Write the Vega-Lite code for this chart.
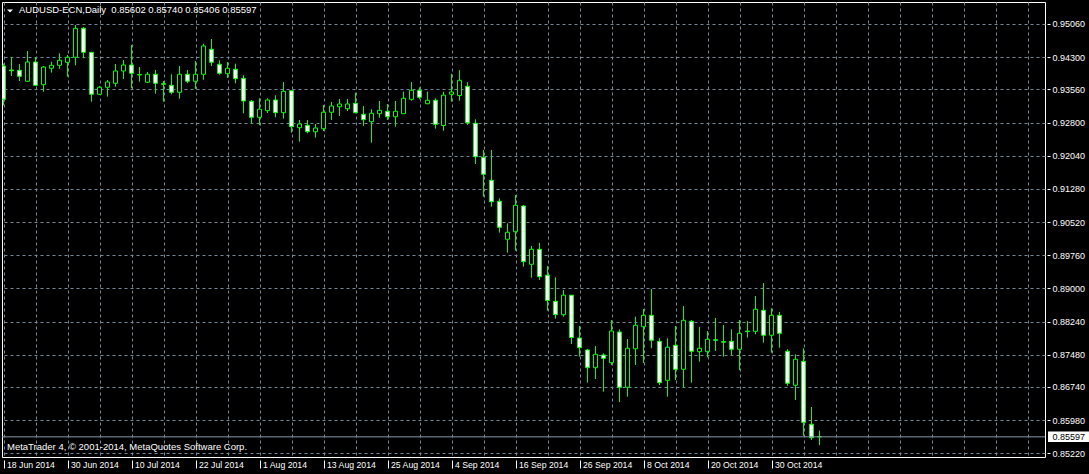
{
  "$schema": "https://vega.github.io/schema/vega-lite/v6.json",
  "width": 1043,
  "height": 455,
  "autosize": {"type": "none"},
  "padding": {"left": 2, "top": 2, "right": 44, "bottom": 17},
  "background": "#000000",
  "config": {"view": {"stroke": "#ffffff", "strokeWidth": 1}, "font": "Liberation Sans"},
  "data": {"values": [
    {"d":"18 Jun 2014","o":0.94097,"h":0.94150,"l":0.93196,"c":0.93334},
    {"d":"19 Jun 2014","o":0.94006,"h":0.94297,"l":0.93868,"c":0.93989},
    {"d":"20 Jun 2014","o":0.93999,"h":0.94143,"l":0.93753,"c":0.93861},
    {"d":"23 Jun 2014","o":0.93747,"h":0.94441,"l":0.93737,"c":0.94189},
    {"d":"24 Jun 2014","o":0.94189,"h":0.94297,"l":0.93639,"c":0.93655},
    {"d":"25 Jun 2014","o":0.93669,"h":0.94097,"l":0.93508,"c":0.94074},
    {"d":"26 Jun 2014","o":0.94045,"h":0.94196,"l":0.93944,"c":0.94113},
    {"d":"27 Jun 2014","o":0.94113,"h":0.94388,"l":0.94035,"c":0.94228},
    {"d":"30 Jun 2014","o":0.94182,"h":0.94349,"l":0.93852,"c":0.94297},
    {"d":"1 Jul 2014","o":0.94297,"h":0.95037,"l":0.94113,"c":0.94961},
    {"d":"2 Jul 2014","o":0.94961,"h":0.94991,"l":0.94274,"c":0.94411},
    {"d":"3 Jul 2014","o":0.94411,"h":0.94420,"l":0.93279,"c":0.93449},
    {"d":"4 Jul 2014","o":0.93449,"h":0.93639,"l":0.93433,"c":0.93609},
    {"d":"7 Jul 2014","o":0.93609,"h":0.93776,"l":0.93394,"c":0.93731},
    {"d":"8 Jul 2014","o":0.93701,"h":0.94143,"l":0.93623,"c":0.93983},
    {"d":"9 Jul 2014","o":0.93983,"h":0.94235,"l":0.93799,"c":0.94120},
    {"d":"10 Jul 2014","o":0.94120,"h":0.94579,"l":0.93586,"c":0.93930},
    {"d":"11 Jul 2014","o":0.93902,"h":0.94074,"l":0.93737,"c":0.93891},
    {"d":"14 Jul 2014","o":0.93724,"h":0.93960,"l":0.93708,"c":0.93907},
    {"d":"15 Jul 2014","o":0.93907,"h":0.94006,"l":0.93462,"c":0.93701},
    {"d":"16 Jul 2014","o":0.93692,"h":0.93753,"l":0.93279,"c":0.93678},
    {"d":"17 Jul 2014","o":0.93655,"h":0.93907,"l":0.93449,"c":0.93494},
    {"d":"18 Jul 2014","o":0.93494,"h":0.94097,"l":0.93348,"c":0.93907},
    {"d":"21 Jul 2014","o":0.93907,"h":0.94006,"l":0.93701,"c":0.93747},
    {"d":"22 Jul 2014","o":0.93747,"h":0.94212,"l":0.93570,"c":0.93907},
    {"d":"23 Jul 2014","o":0.93907,"h":0.94608,"l":0.93783,"c":0.94556},
    {"d":"24 Jul 2014","o":0.94480,"h":0.94716,"l":0.94097,"c":0.94182},
    {"d":"25 Jul 2014","o":0.94136,"h":0.94228,"l":0.93898,"c":0.93930},
    {"d":"28 Jul 2014","o":0.93921,"h":0.94189,"l":0.93822,"c":0.94045},
    {"d":"29 Jul 2014","o":0.94022,"h":0.94150,"l":0.93701,"c":0.93806},
    {"d":"30 Jul 2014","o":0.93815,"h":0.93884,"l":0.93013,"c":0.93295},
    {"d":"31 Jul 2014","o":0.93288,"h":0.93318,"l":0.92784,"c":0.92921},
    {"d":"1 Aug 2014","o":0.92921,"h":0.93357,"l":0.92738,"c":0.93105},
    {"d":"4 Aug 2014","o":0.93073,"h":0.93357,"l":0.93020,"c":0.93318},
    {"d":"5 Aug 2014","o":0.93318,"h":0.93426,"l":0.92921,"c":0.93027},
    {"d":"6 Aug 2014","o":0.93027,"h":0.93731,"l":0.92889,"c":0.93517},
    {"d":"7 Aug 2014","o":0.93531,"h":0.93540,"l":0.92568,"c":0.92706},
    {"d":"8 Aug 2014","o":0.92683,"h":0.92860,"l":0.92362,"c":0.92768},
    {"d":"11 Aug 2014","o":0.92738,"h":0.92860,"l":0.92555,"c":0.92591},
    {"d":"12 Aug 2014","o":0.92591,"h":0.92768,"l":0.92454,"c":0.92676},
    {"d":"13 Aug 2014","o":0.92660,"h":0.93203,"l":0.92607,"c":0.93036},
    {"d":"14 Aug 2014","o":0.93036,"h":0.93272,"l":0.92860,"c":0.93180},
    {"d":"15 Aug 2014","o":0.93164,"h":0.93341,"l":0.92951,"c":0.93226},
    {"d":"18 Aug 2014","o":0.93118,"h":0.93341,"l":0.93066,"c":0.93226},
    {"d":"19 Aug 2014","o":0.93242,"h":0.93485,"l":0.93013,"c":0.93027},
    {"d":"20 Aug 2014","o":0.92990,"h":0.93180,"l":0.92722,"c":0.92866},
    {"d":"21 Aug 2014","o":0.92820,"h":0.93105,"l":0.92339,"c":0.93013},
    {"d":"22 Aug 2014","o":0.93004,"h":0.93295,"l":0.92912,"c":0.93082},
    {"d":"25 Aug 2014","o":0.93059,"h":0.93226,"l":0.92860,"c":0.92935},
    {"d":"26 Aug 2014","o":0.92935,"h":0.93295,"l":0.92706,"c":0.93059},
    {"d":"27 Aug 2014","o":0.93004,"h":0.93508,"l":0.93004,"c":0.93357},
    {"d":"28 Aug 2014","o":0.93334,"h":0.93731,"l":0.93302,"c":0.93540},
    {"d":"29 Aug 2014","o":0.93540,"h":0.93609,"l":0.93334,"c":0.93380},
    {"d":"1 Sep 2014","o":0.93233,"h":0.93508,"l":0.93219,"c":0.93311},
    {"d":"2 Sep 2014","o":0.93311,"h":0.93357,"l":0.92660,"c":0.92761},
    {"d":"3 Sep 2014","o":0.92733,"h":0.93508,"l":0.92614,"c":0.93428},
    {"d":"4 Sep 2014","o":0.93449,"h":0.93918,"l":0.93279,"c":0.93501},
    {"d":"5 Sep 2014","o":0.93421,"h":0.94001,"l":0.93302,"c":0.93769},
    {"d":"8 Sep 2014","o":0.93632,"h":0.93726,"l":0.92745,"c":0.92795},
    {"d":"9 Sep 2014","o":0.92784,"h":0.92876,"l":0.91851,"c":0.92018},
    {"d":"10 Sep 2014","o":0.92005,"h":0.92172,"l":0.91101,"c":0.91615},
    {"d":"11 Sep 2014","o":0.91477,"h":0.92172,"l":0.90872,"c":0.90987},
    {"d":"12 Sep 2014","o":0.90996,"h":0.91065,"l":0.90276,"c":0.90400},
    {"d":"15 Sep 2014","o":0.90125,"h":0.90492,"l":0.89818,"c":0.90286},
    {"d":"16 Sep 2014","o":0.90299,"h":0.91140,"l":0.89864,"c":0.90904},
    {"d":"17 Sep 2014","o":0.90888,"h":0.90911,"l":0.89497,"c":0.89612},
    {"d":"18 Sep 2014","o":0.89552,"h":0.89971,"l":0.89245,"c":0.89896},
    {"d":"19 Sep 2014","o":0.89896,"h":0.90044,"l":0.89192,"c":0.89268},
    {"d":"22 Sep 2014","o":0.89302,"h":0.89513,"l":0.88488,"c":0.88722},
    {"d":"23 Sep 2014","o":0.88704,"h":0.89254,"l":0.88305,"c":0.88397},
    {"d":"24 Sep 2014","o":0.88397,"h":0.88963,"l":0.88351,"c":0.88844},
    {"d":"25 Sep 2014","o":0.88844,"h":0.88849,"l":0.87725,"c":0.87874},
    {"d":"26 Sep 2014","o":0.87863,"h":0.88138,"l":0.87434,"c":0.87640},
    {"d":"29 Sep 2014","o":0.87588,"h":0.87611,"l":0.86838,"c":0.87182},
    {"d":"30 Sep 2014","o":0.87182,"h":0.87679,"l":0.86923,"c":0.87489},
    {"d":"1 Oct 2014","o":0.87473,"h":0.87512,"l":0.86632,"c":0.87397},
    {"d":"2 Oct 2014","o":0.87297,"h":0.88275,"l":0.87244,"c":0.88023},
    {"d":"3 Oct 2014","o":0.88000,"h":0.88062,"l":0.86396,"c":0.86733},
    {"d":"6 Oct 2014","o":0.86733,"h":0.87840,"l":0.86517,"c":0.87627},
    {"d":"7 Oct 2014","o":0.87617,"h":0.88351,"l":0.87244,"c":0.88154},
    {"d":"8 Oct 2014","o":0.88122,"h":0.88527,"l":0.87290,"c":0.88383},
    {"d":"9 Oct 2014","o":0.88383,"h":0.88986,"l":0.87627,"c":0.87810},
    {"d":"10 Oct 2014","o":0.87787,"h":0.87856,"l":0.86785,"c":0.86838},
    {"d":"13 Oct 2014","o":0.86893,"h":0.87856,"l":0.86517,"c":0.87650},
    {"d":"14 Oct 2014","o":0.87695,"h":0.88138,"l":0.86900,"c":0.87145},
    {"d":"15 Oct 2014","o":0.87145,"h":0.88596,"l":0.86733,"c":0.88268},
    {"d":"16 Oct 2014","o":0.88245,"h":0.88275,"l":0.86838,"c":0.87558},
    {"d":"17 Oct 2014","o":0.87549,"h":0.88115,"l":0.87320,"c":0.87627},
    {"d":"20 Oct 2014","o":0.87549,"h":0.88023,"l":0.87420,"c":0.87833},
    {"d":"21 Oct 2014","o":0.87824,"h":0.88321,"l":0.87565,"c":0.87810},
    {"d":"22 Oct 2014","o":0.87782,"h":0.88161,"l":0.87434,"c":0.87766},
    {"d":"23 Oct 2014","o":0.87787,"h":0.88062,"l":0.87473,"c":0.87604},
    {"d":"24 Oct 2014","o":0.87604,"h":0.88275,"l":0.87129,"c":0.87970},
    {"d":"27 Oct 2014","o":0.88023,"h":0.88252,"l":0.87870,"c":0.88009},
    {"d":"28 Oct 2014","o":0.88016,"h":0.88825,"l":0.87948,"c":0.88521},
    {"d":"29 Oct 2014","o":0.88498,"h":0.89123,"l":0.87755,"c":0.87925},
    {"d":"30 Oct 2014","o":0.87925,"h":0.88544,"l":0.87526,"c":0.88383},
    {"d":"31 Oct 2014","o":0.88383,"h":0.88459,"l":0.87640,"c":0.87970},
    {"d":"3 Nov 2014","o":0.87558,"h":0.87604,"l":0.86769,"c":0.86824},
    {"d":"4 Nov 2014","o":0.86779,"h":0.87489,"l":0.86442,"c":0.87375},
    {"d":"5 Nov 2014","o":0.87329,"h":0.87627,"l":0.85623,"c":0.85930},
    {"d":"6 Nov 2014","o":0.85885,"h":0.86281,"l":0.85525,"c":0.85578},
    {"d":"7 Nov 2014","o":0.85602,"h":0.85740,"l":0.85406,"c":0.85597}
  ]},
  "encoding": {
    "x": {
      "field": "d",
      "type": "ordinal",
      "scale": {
        "type": "point",
        "padding": 0.1875,
        "domain": ["18 Jun 2014","19 Jun 2014","20 Jun 2014","23 Jun 2014","24 Jun 2014","25 Jun 2014","26 Jun 2014","27 Jun 2014","30 Jun 2014","1 Jul 2014","2 Jul 2014","3 Jul 2014","4 Jul 2014","7 Jul 2014","8 Jul 2014","9 Jul 2014","10 Jul 2014","11 Jul 2014","14 Jul 2014","15 Jul 2014","16 Jul 2014","17 Jul 2014","18 Jul 2014","21 Jul 2014","22 Jul 2014","23 Jul 2014","24 Jul 2014","25 Jul 2014","28 Jul 2014","29 Jul 2014","30 Jul 2014","31 Jul 2014","1 Aug 2014","4 Aug 2014","5 Aug 2014","6 Aug 2014","7 Aug 2014","8 Aug 2014","11 Aug 2014","12 Aug 2014","13 Aug 2014","14 Aug 2014","15 Aug 2014","18 Aug 2014","19 Aug 2014","20 Aug 2014","21 Aug 2014","22 Aug 2014","25 Aug 2014","26 Aug 2014","27 Aug 2014","28 Aug 2014","29 Aug 2014","1 Sep 2014","2 Sep 2014","3 Sep 2014","4 Sep 2014","5 Sep 2014","8 Sep 2014","9 Sep 2014","10 Sep 2014","11 Sep 2014","12 Sep 2014","15 Sep 2014","16 Sep 2014","17 Sep 2014","18 Sep 2014","19 Sep 2014","22 Sep 2014","23 Sep 2014","24 Sep 2014","25 Sep 2014","26 Sep 2014","29 Sep 2014","30 Sep 2014","1 Oct 2014","2 Oct 2014","3 Oct 2014","6 Oct 2014","7 Oct 2014","8 Oct 2014","9 Oct 2014","10 Oct 2014","13 Oct 2014","14 Oct 2014","15 Oct 2014","16 Oct 2014","17 Oct 2014","20 Oct 2014","21 Oct 2014","22 Oct 2014","23 Oct 2014","24 Oct 2014","27 Oct 2014","28 Oct 2014","29 Oct 2014","30 Oct 2014","31 Oct 2014","3 Nov 2014","4 Nov 2014","5 Nov 2014","6 Nov 2014","7 Nov 2014","10 Nov 2014","11 Nov 2014","12 Nov 2014","13 Nov 2014","14 Nov 2014","17 Nov 2014","18 Nov 2014","19 Nov 2014","20 Nov 2014","21 Nov 2014","24 Nov 2014","25 Nov 2014","26 Nov 2014","27 Nov 2014","28 Nov 2014","1 Dec 2014","2 Dec 2014","3 Dec 2014","4 Dec 2014","5 Dec 2014","8 Dec 2014","9 Dec 2014","10 Dec 2014","11 Dec 2014","12 Dec 2014","15 Dec 2014","16 Dec 2014","17 Dec 2014"]
      },
      "axis": {
        "title": null,
        "orient": "bottom",
        "values": ["18 Jun 2014","24 Jun 2014","30 Jun 2014","4 Jul 2014","10 Jul 2014","16 Jul 2014","22 Jul 2014","28 Jul 2014","1 Aug 2014","7 Aug 2014","13 Aug 2014","19 Aug 2014","25 Aug 2014","29 Aug 2014","4 Sep 2014","10 Sep 2014","16 Sep 2014","22 Sep 2014","26 Sep 2014","2 Oct 2014","8 Oct 2014","14 Oct 2014","20 Oct 2014","24 Oct 2014","30 Oct 2014","5 Nov 2014","11 Nov 2014","17 Nov 2014","21 Nov 2014","27 Nov 2014","3 Dec 2014","9 Dec 2014","15 Dec 2014"],
        "labelExpr": "indexof(['18 Jun 2014','30 Jun 2014','10 Jul 2014','22 Jul 2014','1 Aug 2014','13 Aug 2014','25 Aug 2014','4 Sep 2014','16 Sep 2014','26 Sep 2014','8 Oct 2014','20 Oct 2014','30 Oct 2014'], datum.value) >= 0 ? datum.value : ''",
        "tickOpacity": {"condition": {"test": "indexof(['18 Jun 2014','30 Jun 2014','10 Jul 2014','22 Jul 2014','1 Aug 2014','13 Aug 2014','25 Aug 2014','4 Sep 2014','16 Sep 2014','26 Sep 2014','8 Oct 2014','20 Oct 2014','30 Oct 2014'], datum.value) >= 0", "value": 1}, "value": 0},
        "labelAngle": 0,
        "labelAlign": "left",
        "labelBaseline": "top",
        "labelOffset": 3,
        "labelPadding": -7.5,
        "labelOverlap": false,
        "labelBound": false,
        "labelFont": "Liberation Sans",
        "labelFontSize": 8.7,
        "labelColor": "#ffffff",
        "tickColor": "#ffffff",
        "tickSize": 11,
        "tickDash": [0, 3, 8, 0],
        "domain": false,
        "grid": true,
        "gridColor": "#778899",
        "gridDash": [3, 3],
        "gridWidth": 1
      }
    },
    "y": {
      "field": "l",
      "type": "quantitative",
      "scale": {"domain": [0.85135, 0.95564], "nice": false, "zero": false},
      "axis": {
        "title": null,
        "orient": "right",
        "values": [0.9506, 0.943, 0.9356, 0.928, 0.9204, 0.9128, 0.9052, 0.8976, 0.89, 0.8824, 0.8748, 0.8674, 0.8598, 0.8522],
        "format": ".5f",
        "labelFont": "Liberation Sans",
        "labelFontSize": 9,
        "labelColor": "#ffffff",
        "labelPadding": 2,
        "tickColor": "#ffffff",
        "tickSize": 5,
        "tickDash": [0, 2, 3, 0],
        "domain": false,
        "grid": true,
        "gridColor": "#778899",
        "gridDash": [3, 3],
        "gridWidth": 1
      }
    }
  },
  "layer": [
    {
      "mark": {"type": "rule", "color": "#00ff00", "strokeWidth": 1, "clip": true},
      "encoding": {
        "y2": {"field": "h"}
      }
    },
    {
      "mark": {"type": "bar", "width": 4, "stroke": "#00ff00", "strokeWidth": 1, "clip": true},
      "encoding": {
        "y": {"field": "o", "type": "quantitative"},
        "y2": {"field": "c"},
        "fill": {"condition": {"test": "datum.c < datum.o", "value": "#ffffff"}, "value": "#000000"}
      }
    },
    {
      "data": {"values": [{"d": "7 Nov 2014", "p": 0.85597}]},
      "mark": {"type": "rule", "color": "#8a97a8", "strokeWidth": 1},
      "encoding": {
        "x": null,
        "y": {"field": "p", "type": "quantitative"}
      }
    },
    {
      "data": {"values": [{"d": "17 Dec 2014", "p": 0.85597}]},
      "mark": {"type": "point", "shape": "M-1.56,-0.4H1.56V0.4H-1.56Z", "size": 689, "filled": true, "color": "#ffffff", "opacity": 1, "xOffset": 25},
      "encoding": {
        "y": {"field": "p", "type": "quantitative"}
      }
    },
    {
      "data": {"values": [{"d": "17 Dec 2014", "p": 0.85597, "t": "0.85597"}]},
      "mark": {"type": "text", "align": "left", "baseline": "middle", "dx": 9, "font": "Liberation Sans", "fontSize": 9, "color": "#000000"},
      "encoding": {
        "y": {"field": "p", "type": "quantitative"},
        "text": {"field": "t"}
      }
    },
    {
      "data": {"values": [{"d": "18 Jun 2014", "p": 0.95358}]},
      "mark": {"type": "point", "shape": "M-1,-0.5L1,-0.5L0,0.5Z", "size": 36, "filled": true, "color": "#ffffff", "opacity": 1, "xOffset": 6.5},
      "encoding": {
        "y": {"field": "p", "type": "quantitative"}
      }
    },
    {
      "data": {"values": [{"d": "18 Jun 2014", "p": 0.95374, "t": "AUDUSD-ECN,Daily\u00a0 0.85602 0.85740 0.85406 0.85597"}]},
      "mark": {"type": "text", "align": "left", "baseline": "middle", "dx": 15.5, "font": "Liberation Sans", "fontSize": 9.5, "color": "#ffffff"},
      "encoding": {
        "y": {"field": "p", "type": "quantitative"},
        "text": {"field": "t"}
      }
    },
    {
      "data": {"values": [{"d": "18 Jun 2014", "p": 0.85353, "t": "MetaTrader 4, © 2001-2014, MetaQuotes Software Corp."}]},
      "mark": {"type": "text", "align": "left", "baseline": "middle", "dx": 3.5, "font": "Liberation Sans", "fontSize": 9.5, "color": "#ffffff"},
      "encoding": {
        "y": {"field": "p", "type": "quantitative"},
        "text": {"field": "t"}
      }
    }
  ]
}
